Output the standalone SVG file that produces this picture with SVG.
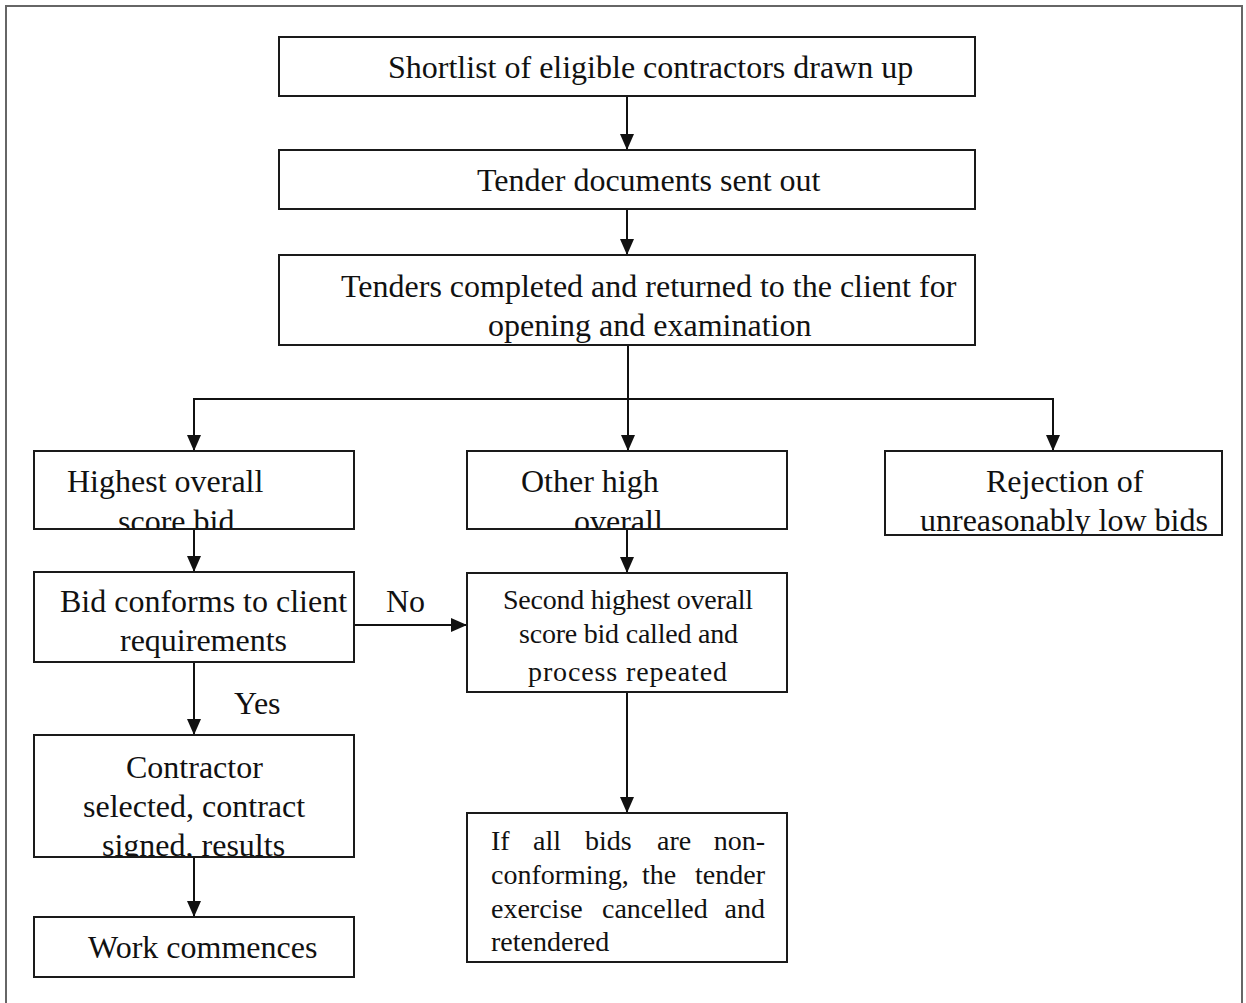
<svg xmlns="http://www.w3.org/2000/svg" width="1246" height="1003" viewBox="0 0 1246 1003">
  <style>
    .frame { fill: none; stroke: #666; stroke-width: 2; }
    .box { fill: #fff; stroke: #1a1a1a; stroke-width: 2; }
    .edge { fill: none; stroke: #111; stroke-width: 2; }
    .t { font-family: "Liberation Serif", "Times New Roman", serif; font-size: 32px; fill: #111; }
    .s { font-family: "Liberation Serif", "Times New Roman", serif; font-size: 28px; fill: #111; }
    .end { text-anchor: end; }
  </style>
  <defs>
    <marker id="arrow" markerUnits="userSpaceOnUse" viewBox="0 0 16 14" refX="16" refY="7" markerWidth="16" markerHeight="14" orient="auto">
      <path d="M0,0 L16,7 L0,14 z" fill="#111"/>
    </marker>
    <!-- text that overruns a box is cut at its lower border -->
    <clipPath id="clip-highest"><rect x="34" y="451" width="320" height="78"/></clipPath>
    <clipPath id="clip-other"><rect x="467" y="451" width="320" height="78"/></clipPath>
    <clipPath id="clip-reject"><rect x="885" y="451" width="337" height="84"/></clipPath>
    <clipPath id="clip-contractor"><rect x="34" y="735" width="320" height="122"/></clipPath>
  </defs>

  <rect class="frame" x="6" y="6" width="1236" height="1012"/>

  <g id="connectors">
    <line class="edge" x1="627" y1="96" x2="627" y2="150" marker-end="url(#arrow)"/>
    <line class="edge" x1="627" y1="209" x2="627" y2="255" marker-end="url(#arrow)"/>
    <line class="edge" x1="628" y1="345" x2="628" y2="451" marker-end="url(#arrow)"/>
    <polyline class="edge" points="194,451 194,399 1053,399 1053,451" marker-end="url(#arrow)"/>
    <line class="edge" x1="194" y1="399" x2="194" y2="451" marker-end="url(#arrow)"/>
    <line class="edge" x1="194" y1="529" x2="194" y2="572" marker-end="url(#arrow)"/>
    <line class="edge" x1="627" y1="529" x2="627" y2="573" marker-end="url(#arrow)"/>
    <line class="edge" x1="354" y1="625" x2="467" y2="625" marker-end="url(#arrow)"/>
    <line class="edge" x1="194" y1="662" x2="194" y2="735" marker-end="url(#arrow)"/>
    <line class="edge" x1="627" y1="692" x2="627" y2="813" marker-end="url(#arrow)"/>
    <line class="edge" x1="194" y1="857" x2="194" y2="917" marker-end="url(#arrow)"/>
    <text class="t" x="386" y="612">No</text>
    <text class="t" x="234" y="714">Yes</text>
  </g>

  <g id="shortlist">
    <rect class="box" x="279" y="37" width="696" height="59"/>
    <text class="t" x="388" y="78">Shortlist of eligible contractors drawn up</text>
  </g>

  <g id="tender-docs">
    <rect class="box" x="279" y="150" width="696" height="59"/>
    <text class="t" x="477" y="191">Tender documents sent out</text>
  </g>

  <g id="tenders-returned">
    <rect class="box" x="279" y="255" width="696" height="90"/>
    <text class="t" x="341" y="297">Tenders completed and returned to the client for</text>
    <text class="t" x="488" y="336">opening and examination</text>
  </g>

  <g id="highest-bid">
    <rect class="box" x="34" y="451" width="320" height="78"/>
    <g clip-path="url(#clip-highest)">
      <text class="t" x="67" y="492">Highest overall</text>
      <text class="t" x="118" y="532">score bid</text>
    </g>
    <rect class="box" x="34" y="451" width="320" height="78" style="fill:none"/>
  </g>

  <g id="other-high">
    <rect class="box" x="467" y="451" width="320" height="78"/>
    <g clip-path="url(#clip-other)">
      <text class="t" x="521" y="492">Other high</text>
      <text class="t" x="574" y="532">overall</text>
    </g>
    <rect class="box" x="467" y="451" width="320" height="78" style="fill:none"/>
  </g>

  <g id="rejection">
    <rect class="box" x="885" y="451" width="337" height="84"/>
    <g clip-path="url(#clip-reject)">
      <text class="t" x="986" y="492">Rejection of</text>
      <text class="t" x="920" y="531">unreasonably low bids</text>
    </g>
    <rect class="box" x="885" y="451" width="337" height="84" style="fill:none"/>
  </g>

  <g id="bid-conforms">
    <rect class="box" x="34" y="572" width="320" height="90"/>
    <text class="t" x="60" y="612">Bid conforms to client</text>
    <text class="t" x="120" y="651">requirements</text>
  </g>

  <g id="second-highest">
    <rect class="box" x="467" y="573" width="320" height="119"/>
    <text class="s" x="503" y="609" textLength="250">Second highest overall</text>
    <text class="s" x="519" y="643" textLength="219">score bid called and</text>
    <text class="s" x="528" y="681" textLength="199">process repeated</text>
  </g>

  <g id="contractor-selected">
    <rect class="box" x="34" y="735" width="320" height="122"/>
    <g clip-path="url(#clip-contractor)">
      <text class="t" x="126" y="778">Contractor</text>
      <text class="t" x="83" y="817">selected, contract</text>
      <text class="t" x="102" y="856">signed, results</text>
    </g>
    <rect class="box" x="34" y="735" width="320" height="122" style="fill:none"/>
  </g>

  <g id="work-commences">
    <rect class="box" x="34" y="917" width="320" height="60"/>
    <text class="t" x="88" y="958">Work commences</text>
  </g>

  <g id="retender">
    <rect class="box" x="467" y="813" width="320" height="149"/>
    <!-- justified paragraph, one word per span -->
    <text class="s" y="850">
      <tspan x="491">If</tspan><tspan x="533">all</tspan><tspan x="585">bids</tspan><tspan x="657">are</tspan>
    </text>
    <text class="s end" x="765" y="850">non-</text>
    <text class="s" y="884">
      <tspan x="491">conforming,</tspan><tspan x="642">the</tspan>
    </text>
    <text class="s end" x="765" y="884">tender</text>
    <text class="s" y="918">
      <tspan x="491">exercise</tspan><tspan x="602">cancelled</tspan>
    </text>
    <text class="s end" x="765" y="918">and</text>
    <text class="s" x="491" y="951">retendered</text>
  </g>
</svg>
